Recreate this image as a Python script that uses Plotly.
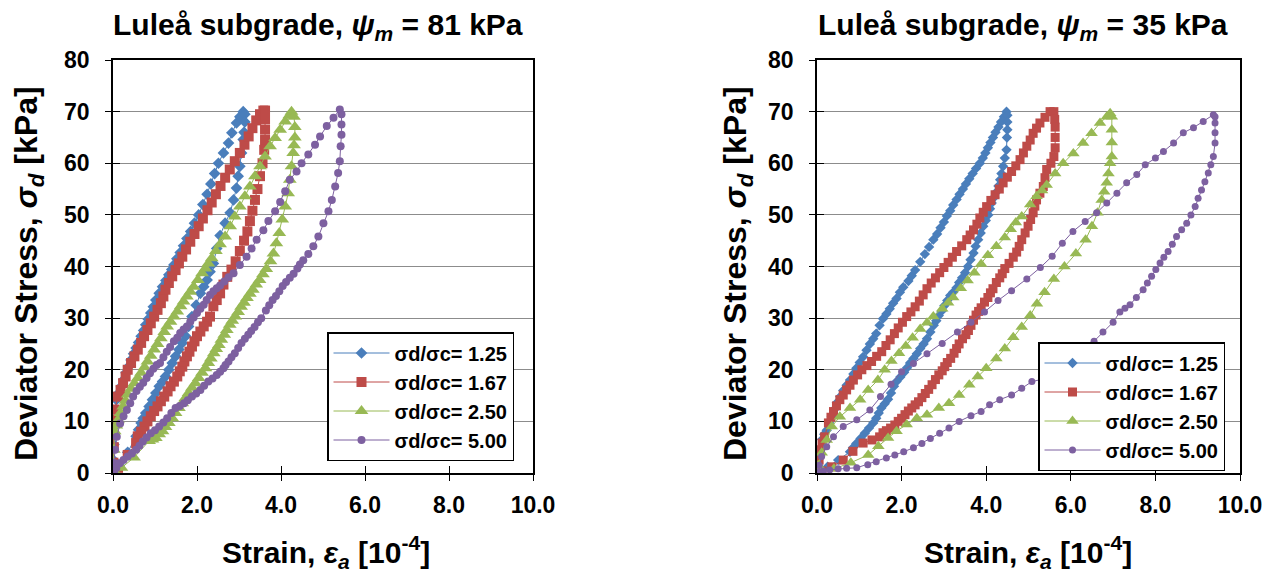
import plotly.graph_objects as go

# ---------------- DATA ----------------
series_names = ["σd/σc= 1.25", "σd/σc= 1.67", "σd/σc= 2.50", "σd/σc= 5.00"]
x_ticks = [0, 2, 4, 6, 8, 10]
x_tick_labels = ["0.0", "2.0", "4.0", "6.0", "8.0", "10.0"]
y_ticks = [0, 10, 20, 30, 40, 50, 60, 70, 80]

# ---- Left panel: psi_m = 81 kPa ----
strain81_125_load = [0.00,0.01,0.02,0.03,0.08,0.14,0.20,0.26,0.31,0.37,0.43,0.49,0.55,0.61,0.67,0.73,0.78,0.84,0.90,0.96,1.02,1.10,1.18,1.26,1.33,1.40,1.45,1.52,1.60,1.68,1.76,1.85,1.94,2.04,2.14,2.24,2.33,2.42,2.51,2.63,2.75,2.83,2.94,3.02,3.10]
stress81_125_load = [0.0,2.5,5.5,9.0,14.2,15.5,16.8,18.1,19.4,20.6,21.9,23.1,24.2,25.3,26.5,27.6,28.7,29.8,31.0,32.2,33.5,34.8,36.1,37.3,38.4,39.4,40.3,41.5,42.7,44.0,45.4,46.8,48.4,50.0,52.0,54.0,56.0,58.0,60.0,62.0,63.9,65.9,67.8,69.0,70.0]
strain81_125_unload = [3.14,3.14,3.12,3.10,3.06,3.02,2.98,2.94,2.87,2.79,2.67,2.55,2.47,2.39,2.31,2.24,2.16,2.08,1.98,1.88,1.80,1.73,1.65,1.57,1.49,1.41,1.33,1.25,1.18,1.10,1.02,0.94,0.86,0.78,0.72,0.67,0.61,0.55,0.35,0.15,0.05]
stress81_125_unload = [69.5,68.0,66.0,64.6,62.0,59.4,57.5,55.2,52.9,50.4,48.4,46.0,43.5,40.6,39.0,37.4,36.1,34.8,32.5,30.3,28.4,26.5,25.2,23.9,22.6,21.3,20.0,18.7,17.7,16.8,15.5,14.2,12.9,11.6,10.6,9.7,8.4,7.1,4.0,1.5,0.3]

strain81_167_load = [0.00,0.01,0.02,0.00,0.04,0.12,0.18,0.24,0.30,0.35,0.43,0.51,0.59,0.67,0.74,0.82,0.90,0.98,1.06,1.14,1.20,1.25,1.33,1.41,1.49,1.57,1.65,1.74,1.84,1.94,2.04,2.14,2.25,2.35,2.45,2.56,2.67,2.78,2.90,3.02,3.13,3.23,3.32,3.41,3.50,3.58]
stress81_167_load = [0.0,2.0,5.0,10.3,12.3,14.8,16.1,17.4,18.7,20.0,21.3,22.6,23.9,25.2,26.5,27.7,29.0,30.3,31.6,32.9,34.2,35.5,36.8,38.1,39.3,40.6,41.9,43.3,44.8,46.3,47.8,49.3,50.9,52.4,54.0,55.6,57.2,58.8,60.4,62.0,63.6,65.2,66.8,68.3,69.5,70.2]
strain81_167_unload = [3.62,3.62,3.62,3.62,3.60,3.56,3.50,3.44,3.38,3.32,3.26,3.20,3.12,3.02,2.92,2.82,2.72,2.63,2.55,2.47,2.39,2.31,2.24,2.16,2.08,2.00,1.94,1.88,1.82,1.76,1.70,1.65,1.59,1.53,1.45,1.37,1.30,1.22,1.14,1.06,0.98,0.90,0.82,0.75,0.67,0.59,0.55,0.35,0.12,0.03]
stress81_167_unload = [70.2,68.5,66.5,64.5,62.6,60.0,57.5,55.0,52.9,50.8,48.8,46.8,45.0,43.0,41.0,39.4,38.0,36.5,34.8,33.5,32.3,30.3,29.3,28.4,27.4,26.5,25.5,24.5,23.5,22.6,21.6,20.6,19.7,18.7,17.7,16.8,15.8,14.8,13.9,12.9,12.0,11.0,10.0,9.0,8.0,7.1,5.8,3.5,1.0,0.2]

strain81_250_load = [0.00,0.01,0.02,0.04,0.08,0.12,0.18,0.24,0.30,0.35,0.43,0.51,0.59,0.67,0.75,0.82,0.90,0.98,1.06,1.14,1.22,1.29,1.37,1.45,1.53,1.61,1.68,1.76,1.84,1.92,2.02,2.12,2.20,2.27,2.35,2.45,2.55,2.67,2.79,2.90,3.02,3.14,3.26,3.38,3.50,3.62,3.74,3.86,3.98,4.10,4.20,4.25]
stress81_250_load = [0.0,2.0,4.5,8.1,9.2,10.3,11.6,12.9,14.0,15.2,16.3,17.4,18.4,19.4,20.5,21.6,22.7,23.9,25.0,26.1,27.3,28.4,29.3,30.3,31.3,32.3,33.2,34.2,35.1,36.1,37.4,38.7,39.6,40.6,41.6,43.0,44.3,45.8,47.8,49.7,51.6,53.6,55.5,57.5,59.4,61.3,63.3,64.9,66.5,68.1,69.3,70.0]
strain81_250_unload = [4.31,4.33,4.33,4.31,4.29,4.25,4.21,4.17,4.10,4.03,3.96,3.89,3.82,3.75,3.65,3.57,3.49,3.41,3.33,3.26,3.19,3.12,3.05,2.98,2.91,2.84,2.78,2.71,2.65,2.58,2.52,2.46,2.40,2.33,2.27,2.20,2.12,2.04,1.96,1.88,1.80,1.72,1.65,1.57,1.49,1.41,1.33,1.25,1.18,1.10,1.02,0.94,0.86,0.50,0.20,0.05]
stress81_250_unload = [69.0,67.0,65.0,63.5,62.0,59.4,56.8,54.2,51.6,49.1,46.5,44.5,42.5,41.0,39.5,38.5,37.4,36.5,35.5,34.7,33.9,33.0,32.2,31.2,30.3,29.5,28.7,27.7,26.8,25.8,24.8,24.0,23.2,22.2,21.3,20.3,19.4,18.4,17.4,16.5,15.5,14.5,13.5,12.6,11.6,10.6,9.7,8.9,8.1,7.5,6.8,6.5,6.2,3.0,1.0,0.2]

strain81_500_load = [0.00,0.02,0.05,0.09,0.17,0.25,0.33,0.41,0.48,0.56,0.64,0.72,0.80,0.88,0.96,1.04,1.12,1.20,1.28,1.36,1.45,1.53,1.60,1.68,1.76,1.84,1.92,2.00,2.08,2.16,2.23,2.31,2.39,2.47,2.55,2.65,2.75,2.87,3.02,3.18,3.30,3.42,3.58,3.70,3.86,3.98,4.10,4.21,4.37,4.49,4.65,4.81,4.93,5.09,5.25,5.40]
stress81_500_load = [0.0,2.0,4.5,7.0,9.6,11.0,12.2,13.5,14.8,15.9,16.7,17.5,18.4,19.3,20.2,20.9,21.3,22.4,23.5,24.4,25.5,26.2,27.1,27.8,28.4,29.3,30.1,31.0,31.8,32.6,33.5,34.5,35.2,35.8,36.3,37.1,37.9,38.7,40.3,41.9,43.5,45.2,47.0,48.8,50.7,52.5,54.6,56.8,58.4,60.0,61.7,63.6,65.2,67.2,68.8,70.4]
strain81_500_unload = [5.44,5.44,5.44,5.42,5.40,5.36,5.29,5.21,5.13,5.01,4.89,4.77,4.65,4.53,4.45,4.39,4.30,4.21,4.12,4.04,3.96,3.88,3.80,3.72,3.64,3.53,3.45,3.37,3.29,3.22,3.14,3.06,2.98,2.90,2.82,2.75,2.68,2.63,2.55,2.47,2.37,2.27,2.17,2.08,1.98,1.88,1.78,1.69,1.59,1.49,1.39,1.29,1.20,1.10,1.00,0.90,0.80,0.71,0.63,0.55,0.45,0.35,0.25,0.16,0.08,0.03]
stress81_500_unload = [69.5,67.5,65.5,63.3,60.4,58.1,55.5,52.9,50.7,48.4,45.8,43.9,42.4,41.2,40.4,39.6,38.6,37.8,37.0,36.2,35.2,34.3,33.5,32.5,31.5,30.0,29.2,28.3,27.5,26.8,26.0,25.2,24.2,23.2,22.4,21.6,20.9,20.3,19.6,19.0,18.3,17.7,16.9,16.1,15.4,14.8,14.1,13.5,13.0,12.6,11.6,10.6,9.8,9.0,8.3,7.7,6.9,6.1,5.3,4.5,3.8,3.2,2.5,1.9,1.0,0.4]

# ---- Right panel: psi_m = 35 kPa ----
strain35_125_load = [0.00,0.02,0.05,0.08,0.12,0.17,0.23,0.29,0.35,0.41,0.47,0.55,0.62,0.70,0.78,0.86,0.93,1.01,1.09,1.17,1.25,1.33,1.40,1.48,1.56,1.64,1.72,1.80,1.88,1.96,2.04,2.16,2.24,2.32,2.44,2.55,2.65,2.75,2.84,2.92,3.00,3.07,3.15,3.22,3.30,3.37,3.45,3.52,3.60,3.68,3.76,3.85,3.92,3.98,4.04,4.10,4.16,4.22,4.29,4.35,4.42,4.48]
stress35_125_load = [0.0,1.5,3.0,4.5,6.5,7.5,8.3,9.7,11.0,12.3,13.6,14.8,16.0,17.0,18.0,19.2,20.3,21.4,22.5,23.8,25.0,26.0,27.0,28.6,29.9,30.8,31.8,32.9,33.8,35.0,36.0,37.2,38.2,39.3,40.9,42.4,43.8,45.2,46.3,47.5,48.6,49.8,50.8,51.9,53.0,54.0,55.0,56.0,57.0,58.0,59.0,60.0,61.0,62.0,63.0,64.0,65.0,66.0,67.0,68.0,69.0,70.0]
strain35_125_unload = [4.50,4.50,4.50,4.49,4.48,4.44,4.40,4.36,4.33,4.29,4.25,4.19,4.13,4.09,4.05,3.99,3.93,3.87,3.81,3.75,3.70,3.63,3.57,3.50,3.43,3.36,3.30,3.22,3.15,3.08,3.01,2.95,2.88,2.82,2.76,2.68,2.60,2.52,2.44,2.36,2.28,2.20,2.13,2.06,1.97,1.88,1.82,1.75,1.68,1.60,1.52,1.46,1.40,1.33,1.23,1.13,1.03,0.93,0.85,0.78,0.50,0.25,0.10]
stress35_125_unload = [69.3,68.0,66.5,65.0,62.6,61.0,59.4,58.0,56.8,55.6,54.5,53.4,52.3,51.2,50.0,48.9,47.8,46.5,45.2,43.9,42.6,41.3,40.0,38.8,37.8,36.9,35.9,35.0,34.4,33.4,32.4,31.4,30.5,29.5,28.6,27.3,26.0,25.0,24.1,23.1,22.2,21.3,20.4,19.5,18.6,17.7,16.8,15.5,14.3,13.4,12.6,11.6,10.6,9.7,8.7,7.7,6.7,5.7,4.9,4.1,2.5,1.2,0.4]

strain35_167_load = [0.00,0.02,0.05,0.08,0.12,0.18,0.27,0.33,0.39,0.46,0.54,0.62,0.70,0.78,0.86,0.96,1.06,1.18,1.29,1.41,1.53,1.63,1.73,1.83,1.92,2.02,2.12,2.22,2.32,2.42,2.51,2.60,2.70,2.80,2.90,3.00,3.10,3.20,3.30,3.42,3.54,3.62,3.70,3.78,3.85,3.93,4.01,4.11,4.21,4.31,4.40,4.50,4.60,4.70,4.80,4.88,4.96,5.04,5.11,5.19,5.27,5.39,5.51]
stress35_167_load = [0.0,1.2,2.5,4.5,5.8,7.0,9.7,10.8,11.9,13.0,14.2,15.1,16.1,17.0,18.0,19.0,20.0,20.8,21.6,22.6,23.5,24.7,25.8,27.0,28.1,29.2,30.3,31.2,32.2,33.3,34.5,35.7,36.8,37.8,38.8,39.8,40.8,41.8,42.9,44.0,45.2,46.1,47.1,48.2,49.4,50.5,51.6,52.8,53.9,55.0,56.2,57.3,58.4,59.5,60.7,62.0,63.3,64.5,65.8,66.8,67.8,68.9,70.0]
strain35_167_unload = [5.60,5.62,5.63,5.63,5.63,5.60,5.53,5.43,5.39,5.35,5.27,5.19,5.15,5.11,5.05,4.99,4.92,4.84,4.78,4.72,4.64,4.54,4.44,4.38,4.32,4.24,4.16,4.10,4.04,3.96,3.88,3.82,3.76,3.70,3.64,3.58,3.52,3.44,3.36,3.30,3.24,3.16,3.08,3.02,2.96,2.88,2.80,2.72,2.64,2.56,2.48,2.40,2.32,2.24,2.16,2.08,2.00,1.92,1.84,1.74,1.64,1.56,1.48,1.30,1.09,0.85,0.62,0.35,0.12]
stress35_167_unload = [70.0,68.5,67.0,65.0,63.0,61.3,60.0,58.8,57.2,55.5,54.2,52.9,51.7,50.4,49.1,47.8,46.5,45.2,43.9,42.8,41.8,40.6,39.6,38.6,37.8,36.9,35.7,34.9,34.0,33.1,32.0,31.3,30.6,29.6,28.6,27.6,26.8,26.0,25.0,24.1,23.2,22.2,21.4,20.6,19.8,19.0,18.1,17.1,16.2,15.4,14.6,13.8,13.2,12.6,12.0,11.3,10.6,10.0,9.3,8.7,8.2,7.8,7.0,6.4,5.8,4.2,2.5,1.2,0.4]

strain35_250_load = [0.00,0.03,0.11,0.23,0.35,0.54,0.78,1.02,1.21,1.44,1.60,1.76,1.94,2.10,2.26,2.44,2.60,2.75,2.96,3.10,3.22,3.40,3.56,3.72,3.88,4.04,4.24,4.44,4.58,4.70,4.84,5.04,5.19,5.32,5.43,5.63,5.82,6.06,6.29,6.49,6.69,6.85,6.93]
stress35_250_load = [0.0,1.5,3.9,6.4,9.0,10.9,12.6,14.2,16.1,18.0,20.0,21.7,23.2,24.6,26.2,27.9,29.1,30.3,31.8,33.0,34.0,35.8,37.3,38.8,40.5,42.2,43.9,45.6,47.2,48.5,49.7,52.0,53.6,54.7,55.8,58.0,60.0,61.9,63.9,65.8,67.8,69.0,69.7]
strain35_250_unload = [6.97,6.97,6.97,6.97,6.93,6.89,6.85,6.79,6.73,6.63,6.50,6.35,6.12,5.85,5.60,5.38,5.20,5.04,4.84,4.64,4.44,4.24,4.00,3.80,3.60,3.36,3.12,2.88,2.60,2.36,2.12,1.88,1.68,1.45,1.21,0.80,0.40,0.10]
stress35_250_unload = [69.0,66.5,64.0,61.3,60.0,58.0,56.2,54.5,52.9,50.4,47.8,45.2,42.5,40.0,37.6,35.0,32.8,30.5,28.3,26.3,24.1,22.2,20.3,18.7,17.1,15.1,13.5,12.6,11.3,10.6,9.4,8.1,6.8,5.2,3.5,2.0,0.8,0.2]

strain35_500_load = [0.00,0.05,0.11,0.23,0.39,0.62,0.94,1.25,1.50,1.75,2.00,2.28,2.60,2.96,3.32,3.64,3.96,4.28,4.60,4.96,5.28,5.56,5.80,6.05,6.34,6.61,6.85,7.09,7.32,7.56,7.76,8.00,8.19,8.43,8.66,8.90,9.13,9.37]
stress35_500_load = [0.0,1.5,3.2,5.1,7.0,9.0,10.3,12.2,14.8,17.2,19.6,21.2,23.1,25.1,27.3,29.2,31.2,33.4,35.3,37.6,39.8,42.0,44.5,46.8,48.7,50.4,52.3,54.2,56.2,57.8,59.7,61.0,62.3,63.9,65.9,66.9,68.1,69.4]
strain35_500_unload = [9.41,9.41,9.41,9.41,9.37,9.31,9.25,9.17,9.09,9.01,8.94,8.84,8.74,8.62,8.50,8.40,8.30,8.20,8.11,8.01,7.91,7.81,7.71,7.55,7.40,7.28,7.16,7.00,6.76,6.55,6.30,6.00,5.70,5.40,5.08,4.84,4.60,4.32,4.08,3.88,3.64,3.36,3.12,2.90,2.68,2.48,2.28,2.05,1.84,1.64,1.40,1.20,0.94,0.70,0.50,0.30,0.15,0.05]
stress35_500_unload = [69.0,67.8,65.9,63.9,61.3,59.7,58.1,56.4,54.8,53.2,51.6,50.0,48.4,47.1,45.8,44.3,42.9,41.8,40.7,39.4,38.1,36.8,35.5,34.0,32.6,31.9,31.2,29.2,27.3,25.5,23.5,21.5,19.8,18.3,17.7,16.4,15.1,14.2,13.2,11.9,11.1,10.0,8.7,7.7,6.7,5.7,4.9,4.1,3.5,2.9,2.2,1.6,1.0,0.9,0.8,0.6,0.4,0.2]

# ---------------- STYLE ----------------
# The page body has an 8px margin, so the figure is drawn at (8, 8) in the screenshot.
OFF = 8
W, H = 1277 - OFF, 573 - OFF


def px_x(px):
    return (px - OFF) / W


def px_y(py):
    return 1 - (py - OFF) / H


FONT = "Liberation Sans, Arial, Helvetica, sans-serif"
colors = ["#4a7ebb", "#be4b48", "#98b954", "#7d60a0"]
symbols = ["diamond", "square", "triangle-up", "circle"]

panels = [
    dict(xa="x", ya="y", legend="legend", msizes=[9, 10, 12, 8], data=[
        (strain81_125_load, stress81_125_load, strain81_125_unload, stress81_125_unload),
        (strain81_167_load, stress81_167_load, strain81_167_unload, stress81_167_unload),
        (strain81_250_load, stress81_250_load, strain81_250_unload, stress81_250_unload),
        (strain81_500_load, stress81_500_load, strain81_500_unload, stress81_500_unload),
    ]),
    dict(xa="x2", ya="y2", legend="legend2", msizes=[8, 9, 11, 7], data=[
        (strain35_125_load, stress35_125_load, strain35_125_unload, stress35_125_unload),
        (strain35_167_load, stress35_167_load, strain35_167_unload, stress35_167_unload),
        (strain35_250_load, stress35_250_load, strain35_250_unload, stress35_250_unload),
        (strain35_500_load, stress35_500_load, strain35_500_unload, stress35_500_unload),
    ]),
]

fig = go.Figure()
for p in panels:
    for i, (xl, yl, xu, yu) in enumerate(p["data"]):
        assert len(xl) == len(yl) and len(xu) == len(yu)
        fig.add_trace(go.Scatter(
            x=xl + xu, y=yl + yu, mode="lines+markers", name=series_names[i],
            line=dict(color=colors[i], width=1),
            marker=dict(symbol=symbols[i], size=p["msizes"][i], color=colors[i], line=dict(width=0)),
            xaxis=p["xa"], yaxis=p["ya"], legend=p["legend"],
        ))

# empty traces so that the overlay (inside-tick) axes are drawn
for xa, ya in [("x3", "y"), ("x", "y3"), ("x4", "y2"), ("x2", "y4")]:
    fig.add_trace(go.Scatter(x=[], y=[], xaxis=xa, yaxis=ya, showlegend=False, hoverinfo="skip"))

tickfont = dict(family=FONT, size=23, color="black", weight="bold")
ydom = [px_y(473), px_y(60)]
xdoms = [[px_x(113), px_x(533)], [px_x(817), px_x(1240)]]


def xaxis_main(dom, anchor):
    return dict(domain=dom, anchor=anchor, range=[0, 10], tickvals=x_ticks, ticktext=x_tick_labels,
                showgrid=False, zeroline=False, showline=True, linecolor="black", linewidth=1.5,
                mirror=True, ticks="outside", ticklen=6, tickcolor="black", tickwidth=1,
                tickfont=tickfont, ticklabelstandoff=5, fixedrange=True, automargin=False)


def yaxis_main(anchor):
    return dict(domain=ydom, anchor=anchor, range=[0, 80], tickvals=y_ticks,
                showgrid=True, gridcolor="#8c8c8c", gridwidth=1, zeroline=False,
                showline=True, linecolor="black", linewidth=1.5, mirror=True,
                ticks="outside", ticklen=6, tickcolor="black", tickwidth=1,
                tickfont=tickfont, ticklabelstandoff=11, fixedrange=True, automargin=False)


def x_overlay(over, anchor):
    return dict(overlaying=over, anchor=anchor, range=[0, 10], tickvals=x_ticks, showticklabels=False,
                showgrid=False, zeroline=False, showline=False, ticks="inside", ticklen=7,
                tickcolor="black", tickwidth=1, fixedrange=True, automargin=False)


def y_overlay(over, anchor):
    return dict(overlaying=over, anchor=anchor, range=[0, 80], tickvals=y_ticks, showticklabels=False,
                showgrid=False, zeroline=False, showline=False, ticks="inside", ticklen=7,
                tickcolor="black", tickwidth=1, side="left", fixedrange=True, automargin=False)


legend_style = dict(xanchor="left", yanchor="top", bgcolor="white", bordercolor="black", borderwidth=1.5,
                    font=dict(family=FONT, size=20, color="black", weight="bold"),
                    tracegroupgap=0, itemwidth=56, itemclick=False, itemdoubleclick=False)

titles = [
    ("<b>Luleå subgrade, <i>ψ<sub>m</sub></i> = 81 kPa</b>", 318),
    ("<b>Luleå subgrade, <i>ψ<sub>m</sub></i> = 35 kPa</b>", 1023),
]
annotations = []
for txt, cx in titles:
    annotations.append(dict(text=txt, x=px_x(cx), y=px_y(27), xref="paper", yref="paper",
                            xanchor="center", yanchor="middle", showarrow=False,
                            font=dict(family=FONT, size=30, color="black")))
for cx in [28, 737]:
    annotations.append(dict(text="<b>Deviator Stress, <i>σ<sub>d</sub></i> [kPa]</b>", x=px_x(cx), y=px_y(274),
                            xref="paper", yref="paper", xanchor="center", yanchor="middle",
                            textangle=-90, showarrow=False,
                            font=dict(family=FONT, size=32, color="black")))
for cx in [326, 1028]:
    annotations.append(dict(text="<b>Strain, <i>ε<sub>a</sub></i> [10<sup>-4</sup>]</b>", x=px_x(cx), y=px_y(552),
                            xref="paper", yref="paper", xanchor="center", yanchor="middle",
                            showarrow=False, font=dict(family=FONT, size=30, color="black")))

fig.update_layout(
    width=W, height=H, margin=dict(l=0, r=0, t=0, b=0, pad=0, autoexpand=False),
    paper_bgcolor="white", plot_bgcolor="white",
    xaxis=xaxis_main(xdoms[0], "y"), yaxis=yaxis_main("x"),
    xaxis2=xaxis_main(xdoms[1], "y2"), yaxis2=yaxis_main("x2"),
    xaxis3=x_overlay("x", "y"), yaxis3=y_overlay("y", "x"),
    xaxis4=x_overlay("x2", "y2"), yaxis4=y_overlay("y2", "x2"),
    legend=dict(x=px_x(327), y=px_y(332), **legend_style),
    legend2=dict(x=px_x(1038), y=px_y(342), **legend_style),
    annotations=annotations, showlegend=True,
)

fig.write_html("out.html")
